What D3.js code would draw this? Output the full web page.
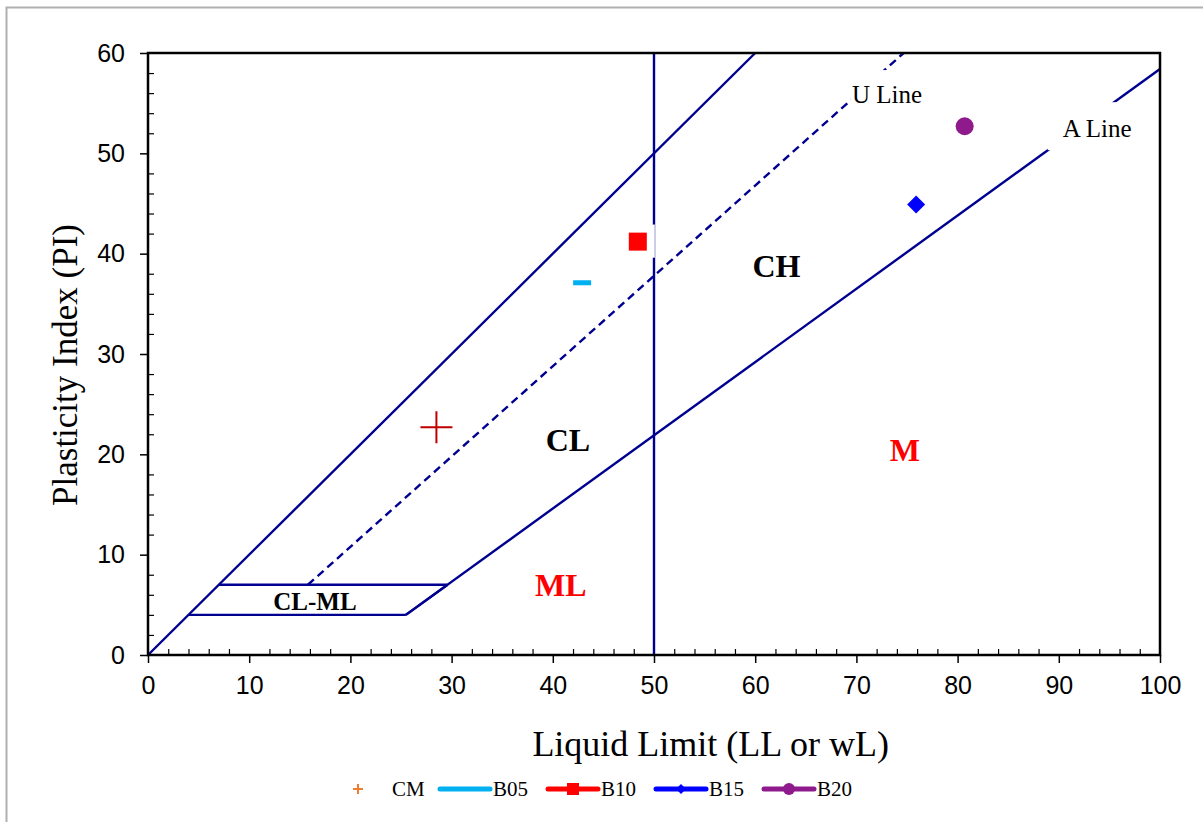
<!DOCTYPE html>
<html>
<head>
<meta charset="utf-8">
<script src="https://cdn.jsdelivr.net/npm/d3@7"></script>
<style>
  body { margin: 0; background: #fff; }
  svg text { font-family: "Liberation Serif", "Times New Roman", serif; }
  .tick text { font-family: "Liberation Sans", Arial, sans-serif; }
</style>
</head>
<body>
<div id="chart"></div>
<script>
// ---- data ----
const samples = ["CM", "B05", "B10", "B15", "B20"];
const liquidLimit = [28.5, 42.9, 48.4, 75.9, 80.7];
const plasticityIndex = [22.7, 37.1, 41.2, 44.9, 52.7];
const xTicks = [0, 10, 20, 30, 40, 50, 60, 70, 80, 90, 100];
const yTicks = [0, 10, 20, 30, 40, 50, 60];

// chart lines (LL, PI pairs)
const aLine = [[25.48, 4], [100, 58.4]];
const uLine = [[15.8, 7], [74.67, 60]];
const diagLine = [[0, 0], [60, 60]];
const llFifty = [[50, 0], [50, 60]];
const clmlTop = [[7, 7], [29.6, 7]];
const clmlBottom = [[4, 4], [25.48, 4]];

const markerColor = ["#c00000", "#00b0f0", "#ff0000", "#0000ff", "#8e1a8c"];
const legendColor = ["#ed7d31", "#00b0f0", "#ff0000", "#0000ff", "#8e1a8c"];
const lineColor = "#000090";

const W = 1203, H = 822;
const margin = { top: 53, right: 43, bottom: 167, left: 148 };
const width = W - margin.left - margin.right,
      height = H - margin.top - margin.bottom;

const root = d3.select("#chart").append("svg")
    .attr("width", W).attr("height", H);

root.append("rect")
    .attr("x", 6.5).attr("y", 7.5)
    .attr("width", 1300).attr("height", 900)
    .attr("fill", "none").attr("stroke", "#b0b0b0").attr("stroke-width", 2);

const svg = root.append("g")
    .attr("transform", "translate(" + margin.left + "," + margin.top + ")");

const x = d3.scaleLinear().domain([0, 100]).range([0, width]);
const y = d3.scaleLinear().domain([0, 60]).range([height, 0]);

const line = d3.line().x(d => x(d[0])).y(d => y(d[1]));

// ---- minor ticks ----
const xMinor = d3.range(0, 101, 2).filter(v => v % 10 !== 0);
const yMinor = d3.range(0, 61, 2).filter(v => v % 10 !== 0);

svg.append("g").attr("class", "x-axis axis")
    .attr("transform", "translate(0," + height + ")")
    .call(d3.axisBottom(x).tickValues(xTicks).tickSize(8).tickPadding(13))
    .call(g => g.select(".domain").remove())
    .call(g => g.selectAll("line").attr("stroke", "#000").attr("stroke-width", 1.5))
    .call(g => g.selectAll("text").style("font-size", "25px").attr("fill", "#000"));

svg.append("g").attr("class", "x-minor")
    .attr("transform", "translate(0," + height + ")")
    .call(d3.axisBottom(x).tickValues(xMinor).tickSize(-6).tickFormat(""))
    .call(g => g.select(".domain").remove())
    .call(g => g.selectAll("line").attr("stroke", "#000").attr("stroke-width", 1.2));

svg.append("g").attr("class", "y-axis axis")
    .call(d3.axisLeft(y).tickValues(yTicks).tickSize(8).tickPadding(15))
    .call(g => g.select(".domain").remove())
    .call(g => g.selectAll("line").attr("stroke", "#000").attr("stroke-width", 1.5))
    .call(g => g.selectAll("text").style("font-size", "25px").attr("fill", "#000"));

svg.append("g").attr("class", "y-minor")
    .call(d3.axisLeft(y).tickValues(yMinor).tickSize(-6).tickFormat(""))
    .call(g => g.select(".domain").remove())
    .call(g => g.selectAll("line").attr("stroke", "#000").attr("stroke-width", 1.2));

// ---- classification lines ----
[aLine, diagLine, llFifty, clmlTop, clmlBottom].forEach(seg => {
  svg.append("path").datum(seg)
      .attr("d", line)
      .attr("fill", "none").attr("stroke", lineColor).attr("stroke-width", 2.4);
});
// A line segment inside CL-ML band
svg.append("path").datum([[25.48, 4], [29.6, 7]])
    .attr("d", line).attr("fill", "none").attr("stroke", lineColor).attr("stroke-width", 2.4);

svg.append("path").datum(uLine)
    .attr("d", line)
    .attr("fill", "none").attr("stroke", lineColor).attr("stroke-width", 2.4)
    .attr("stroke-dasharray", "8,5");

// gap in LL=50 line
svg.append("rect")
    .attr("x", x(50) - 5).attr("y", y(42.9))
    .attr("width", 10).attr("height", y(39.6) - y(42.9))
    .attr("fill", "#fff");
svg.append("line")
    .attr("x1", x(50) + 1).attr("x2", x(50) + 1)
    .attr("y1", y(42.9)).attr("y2", y(39.6))
    .attr("stroke", "#8080c0").attr("stroke-width", 0.8);

// plot frame
svg.append("rect")
    .attr("width", width).attr("height", height)
    .attr("fill", "none").attr("stroke", "#000").attr("stroke-width", 2.5);

// ---- line labels with white backing ----
function boxedLabel(tx, ty, txt, bx, by, bw, bh) {
  svg.append("rect").attr("x", x(bx)).attr("y", y(by))
      .attr("width", bw).attr("height", bh).attr("fill", "#fff");
  svg.append("text").attr("x", x(tx)).attr("y", y(ty))
      .text(txt).style("font-size", "25px").attr("fill", "#000");
}
boxedLabel(69.57, 55.0, "U Line", 69.4, 58.3, 82, 36);
boxedLabel(90.4, 51.6, "A Line", 88.9, 55.1, 95, 48);

// ---- zone labels ----
const zones = [
  { t: "CH", lx: 62.1, ly: 38.8, c: "#000", s: 32 },
  { t: "CL", lx: 41.5, ly: 21.4, c: "#000", s: 32 },
  { t: "M", lx: 74.8, ly: 20.5, c: "#ff0000", s: 32 },
  { t: "ML", lx: 40.8, ly: 7.0, c: "#ff0000", s: 32 },
  { t: "CL-ML", lx: 16.5, ly: 5.4, c: "#000", s: 25 }
];
svg.selectAll(".zone").data(zones).enter().append("text")
    .attr("class", "zone")
    .attr("x", d => x(d.lx)).attr("y", d => y(d.ly))
    .attr("text-anchor", "middle")
    .attr("dy", "0.35em")
    .attr("fill", d => d.c)
    .style("font-weight", "bold")
    .style("font-size", d => d.s + "px")
    .text(d => d.t);

// ---- sample markers ----
const pts = samples.map((s, i) => ({ s, ll: liquidLimit[i], pi: plasticityIndex[i], c: markerColor[i] }));
pts.forEach(d => {
  const g = svg.append("g").attr("transform", "translate(" + x(d.ll) + "," + y(d.pi) + ")");
  if (d.s === "CM") {
    g.append("path").attr("d", "M-16,0H16M0,-16V16")
        .attr("stroke", d.c).attr("stroke-width", 2);
  } else if (d.s === "B05") {
    g.append("rect").attr("x", -9).attr("y", -2.5).attr("width", 18).attr("height", 5).attr("fill", d.c);
  } else if (d.s === "B10") {
    g.append("rect").attr("x", -9).attr("y", -9).attr("width", 18).attr("height", 18).attr("fill", d.c);
  } else if (d.s === "B15") {
    g.append("path").attr("d", "M0,-9L9,0L0,9L-9,0Z").attr("fill", d.c);
  } else {
    g.append("circle").attr("r", 9).attr("fill", d.c);
  }
});

// ---- axis titles ----
svg.append("text")
    .attr("x", x(55.6)).attr("y", height + 101)
    .attr("text-anchor", "middle")
    .style("font-size", "36px")
    .text("Liquid Limit (LL or wL)");

svg.append("text")
    .attr("transform", "rotate(-90)")
    .attr("x", -312).attr("y", -71)
    .attr("text-anchor", "middle")
    .style("font-size", "35px")
    .text("Plasticity Index (PI)");

// ---- legend ----
const legX = [358, 440, 548, 656, 764];
const leg = root.append("g");
samples.forEach((s, i) => {
  const g = leg.append("g").attr("transform", "translate(" + legX[i] + ",789)");
  if (s === "CM") {
    g.append("path").attr("d", "M-5,0H5M0,-5V5").attr("stroke", legendColor[i]).attr("stroke-width", 2);
    g.append("text").attr("x", 34).attr("dy", "0.35em").style("font-size", "21px").text(s);
  } else {
    g.append("line").attr("x1", 0).attr("x2", 50)
        .attr("stroke", legendColor[i]).attr("stroke-width", 5).attr("stroke-linecap", "round");
    if (s === "B10") g.append("rect").attr("x", 19).attr("y", -6).attr("width", 12).attr("height", 12).attr("fill", legendColor[i]);
    if (s === "B15") g.append("path").attr("d", "M25,-5L30,0L25,5L20,0Z").attr("fill", legendColor[i]);
    if (s === "B20") g.append("circle").attr("cx", 25).attr("r", 6).attr("fill", legendColor[i]);
    g.append("text").attr("x", 53).attr("dy", "0.35em").style("font-size", "21px").text(s);
  }
});
</script>
</body>
</html>
